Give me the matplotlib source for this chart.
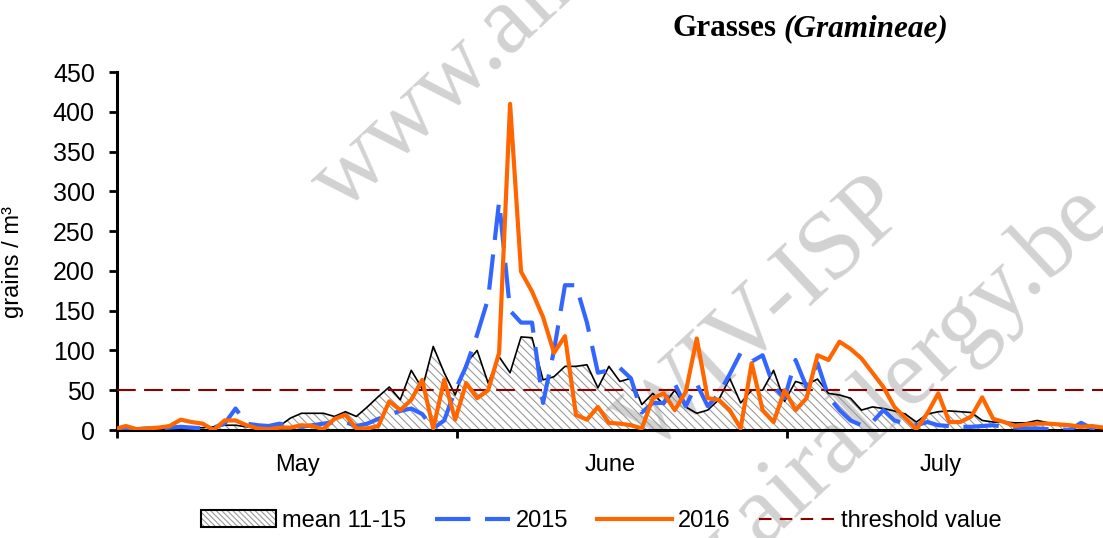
import matplotlib
matplotlib.use('Agg')
import matplotlib.pyplot as plt
import numpy as np
from matplotlib.patches import Patch
from matplotlib.lines import Line2D

plt.rcParams['font.family'] = ['Liberation Sans', 'DejaVu Sans']
plt.rcParams['hatch.linewidth'] = 0.8

# ---- data (daily values, index 0 = 30 April ... 90 = 29 July) ----
day_index = np.arange(91)
mean_1115 = [0, 1, 1, 1, 2, 2, 2, 2, 3, 4,
             6, 6, 4, 3, 2, 5, 15, 21, 21, 21,
             17, 23, 17, 29, 42, 54, 38, 75, 52, 105,
             72, 44, 84, 100, 59, 92, 72, 117, 116, 63,
             67, 80, 80, 82, 53, 80, 61, 65, 32, 46,
             32, 50, 29, 21, 25, 38, 65, 34, 50, 50,
             75, 36, 61, 57, 64, 46, 44, 40, 25, 29,
             27, 24, 20, 10, 20, 23, 24, 23, 22, 12,
             10, 10, 9, 9, 12, 9, 6, 5, 5, 4,
             4]
pollen_2015 = [0, 1, 1, 2, 2, 3, 4, 3, 2, 3,
               8, 27, 8, 6, 5, 8, 5, 4, 6, 8,
               10, 10, 5, 8, 14, 19, 24, 27, 20, 2,
               12, 50, 80, 120, 165, 287, 150, 135, 135, 34,
               100, 182, 182, 135, 72, 75, 78, 65, 22, 34,
               34, 58, 30, 58, 30, 45, 70, 97, 86, 94,
               55, 40, 88, 54, 84, 42, 25, 12, 6, 10,
               25, 12, 8, 6, 10, 6, 5, 4, 4, 5,
               6, 4, 3, 2, 2, 1, 1, 0, 9, 2,
               1]
pollen_2016 = [1, 5, 1, 2, 3, 5, 13, 10, 8, 0,
               12, 12, 6, 2, 1, 3, 3, 6, 5, 1,
               14, 19, 2, 2, 5, 36, 25, 38, 63, 2,
               63, 13, 59, 40, 50, 97, 410, 199, 174, 142,
               97, 118, 19, 13, 29, 9, 8, 6, 2, 40,
               46, 25, 48, 115, 40, 38, 25, 2, 84, 25,
               10, 50, 25, 40, 94, 88, 111, 102, 90, 72,
               54, 29, 15, 1, 21, 46, 10, 10, 17, 41,
               14, 10, 5, 7, 8, 8, 7, 6, 4, 5,
               3]
threshold = 50
month_labels = ['May', 'June', 'July']
month_label_pos = [16.4, 44.9, 75.0]
month_boundaries = [0, 31, 61]
y_ticks = list(range(0, 451, 50))
series_labels = ['mean 11-15', '2015', '2016', 'threshold value']

x = day_index - 0.2

W, H = 1103, 538
fig = plt.figure(figsize=(W / 100, H / 100), dpi=100)

# watermark (behind the chart)
wm = dict(color='#d2d2d2', family='Liberation Serif', fontsize=70, rotation=43,
          ha='center', va='center', rotation_mode='anchor', zorder=-1)
fig.text(585 / W, 1 - (-45) / H, 'www.airallergy.be', **wm)
fig.text(765 / W, 1 - 318 / H, 'WIV-ISP', **wm)
fig.text(840 / W, 1 - 445 / H, 'www.airallergy.be', **wm)

ax = fig.add_axes([117 / W, 1 - 430 / H, 986 / W, 358 / H])
ax.set_facecolor('none')

hatch_col = '#9a9a9a'
ax.fill_between(x, 0, mean_1115, facecolor='none', edgecolor=hatch_col,
                hatch='\\\\\\\\', linewidth=0, zorder=1)
ax.plot(x, mean_1115, color='black', lw=1.2, zorder=2)
red_style = (0, (9.0, 4.0))
ax.axhline(threshold, color='#8B0000', lw=1.5, linestyle=red_style, zorder=3)
blue_style = (0, (8.5, 3.5))
ax.plot(x, pollen_2015, color='#3366FF', lw=3, linestyle=blue_style, zorder=4)
ax.plot(x, pollen_2016, color='#FF6600', lw=3, zorder=5, solid_joinstyle='round')

ax.set_xlim(0, 89.8)
ax.set_ylim(0, 450)
for s in ['top', 'right']:
    ax.spines[s].set_visible(False)
for s in ['left', 'bottom']:
    ax.spines[s].set_linewidth(2.2)

ax.set_yticks(y_ticks)
ax.tick_params(axis='y', direction='out', length=6, width=2, pad=10, labelsize=18)
ax.set_xticks(month_boundaries)
ax.set_xticklabels([])
ax.tick_params(axis='x', which='major', direction='out', length=6, width=2)
ax.set_xticks(month_label_pos, minor=True)
ax.set_xticklabels(month_labels, minor=True)
ax.tick_params(axis='x', which='minor', length=0, pad=17, labelsize=17)

ax.set_ylabel('grains / m³', fontsize=17)
ax.yaxis.set_label_coords(-0.094, 0.469)

# title
fig.text(672 / W, 1 - 36 / H, 'Grasses', family='Liberation Serif',
         fontweight='bold', fontsize=22.5, ha='left', va='baseline')
fig.text(783 / W, 1 - 36 / H, '(Gramineae)', family='Liberation Serif',
         fontweight='bold', fontstyle='italic', fontsize=22.5, ha='left', va='baseline')

# legend
h_mean = (Patch(facecolor='white', edgecolor=hatch_col, hatch='\\\\\\\\\\\\', linewidth=0),
          Patch(facecolor='none', edgecolor='black', linewidth=1.5))
h_2015 = Line2D([], [], color='#3366FF', lw=3, linestyle=blue_style)
h_2016 = Line2D([], [], color='#FF6600', lw=3)
h_thr = Line2D([], [], color='#8B0000', lw=1.5, linestyle=(0, (6.0, 4.0)))
fig.legend([h_mean, h_2015, h_2016, h_thr], series_labels, loc='center',
           bbox_to_anchor=(601 / W, 1 - 521 / H), ncol=4, frameon=False,
           fontsize=17, handlelength=3.2, handleheight=0.7, handletextpad=0.25,
           columnspacing=1.2, borderpad=0)

fig.savefig('out.png', dpi=100)
